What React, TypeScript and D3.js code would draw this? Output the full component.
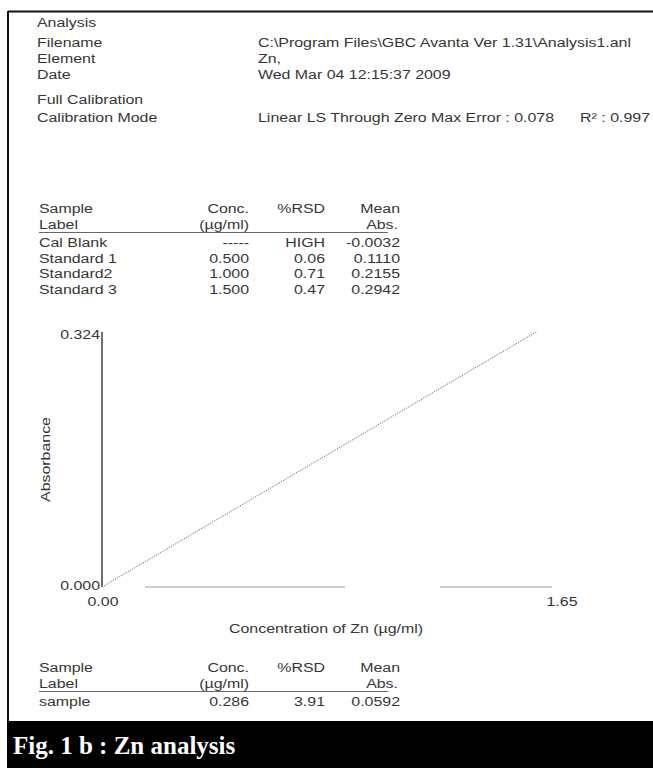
import React from "react";
import * as d3 from "d3";

const infoLabels = ["Filename", "Element", "Date"];
const infoValues = [
  "C:\\Program Files\\GBC Avanta Ver 1.31\\Analysis1.anl",
  "Zn,",
  "Wed Mar 04 12:15:37 2009",
];
const calibrationText = "Linear LS Through Zero  Max Error : 0.078";
const r2Text = "R\u00b2 : 0.997";

const stdLabels = ["Cal Blank", "Standard 1", "Standard2", "Standard 3"];
const stdConcText = ["-----", "0.500", "1.000", "1.500"];
const stdRsd = ["HIGH", "0.06", "0.71", "0.47"];
const stdMeanAbs = ["-0.0032", "0.1110", "0.2155", "0.2942"];

const stdConc = [0.5, 1.0, 1.5];
const stdAbs = [0.111, 0.2155, 0.2942];

const sampleLabels = ["sample"];
const sampleConc = ["0.286"];
const sampleRsd = ["3.91"];
const sampleMeanAbs = ["0.0592"];

const xDomain = [0, 1.65];
const yDomain = [0, 0.324];
const xTickLabels = ["0.00", "1.65"];
const yTickLabels = ["0.000", "0.324"];

const FONT = "'Liberation Sans', Arial, sans-serif";
const INK = "#363636";
const FS = 13.5;
const SX = 1.18;

function T({ x, y, anchor = "start", rotate = 0, children }: { x: number; y: number; anchor?: string; rotate?: number; children: React.ReactNode }) {
  return (
    <text transform={`translate(${x},${y}) rotate(${rotate}) scale(${SX},1)`} textAnchor={anchor as any}>
      {children}
    </text>
  );
}

function Table({ y, labels, conc, rsd, mean }: { y: number; labels: string[]; conc: string[]; rsd: string[]; mean: string[] }) {
  const colL = 39, colC = 249, colR = 325, colM = 400;
  const rowH = 15.5;
  return (
    <g fontFamily={FONT} fontSize={FS} fill={INK}>
      <T x={colL} y={y}>Sample</T>
      <T x={colL} y={y + 15.5}>Label</T>
      <T x={colC} y={y} anchor="end">Conc.</T>
      <T x={colC} y={y + 15.5} anchor="end">(µg/ml)</T>
      <T x={colR} y={y} anchor="end">%RSD</T>
      <T x={colM} y={y} anchor="end">Mean</T>
      <T x={colM - 2} y={y + 15.5} anchor="end">Abs.</T>
      <line x1={colL} x2={colM - 12} y1={y + 19.5} y2={y + 19.5} stroke="#666" strokeWidth={1} />
      {labels.map((l, i) => (
        <g key={l}>
          <T x={colL} y={y + 34 + i * rowH}>{l}</T>
          <T x={colC} y={y + 34 + i * rowH} anchor="end">{conc[i]}</T>
          <T x={colR} y={y + 34 + i * rowH} anchor="end">{rsd[i]}</T>
          <T x={colM} y={y + 34 + i * rowH} anchor="end">{mean[i]}</T>
        </g>
      ))}
    </g>
  );
}

export default function App() {
  const W = 653, H = 768;
  const x = d3.scaleLinear().domain(xDomain).range([102, 552]);
  const y = d3.scaleLinear().domain(yDomain).range([587, 332]);

  const slope = d3.sum(stdConc.map((c, i) => c * stdAbs[i])) / d3.sum(stdConc.map((c) => c * c));
  const endConc = yDomain[1] / slope;
  const fitPts: [number, number][] = [[0, 0], [endConc, slope * endConc]];
  const line = d3.line<[number, number]>().x((d) => x(d[0])).y((d) => y(d[1]));

  return (
    <svg width={W} height={H} style={{ position: "absolute", left: 0, top: 0, background: "#fff" }}>
      <rect x={0} y={0} width={W} height={H} fill="#fff" />
      {/* frame */}
      <line x1={8} x2={W} y1={11.5} y2={11.5} stroke="#111" strokeWidth={2} />
      <line x1={8} x2={8} y1={11} y2={721} stroke="#111" strokeWidth={2} />

      <g fontFamily={FONT} fontSize={FS} fill={INK}>
        <T x={37} y={27}>Analysis</T>
        {infoLabels.map((l, i) => (
          <g key={l}>
            <T x={37} y={47 + i * 16}>{l}</T>
            <T x={258} y={47 + i * 16}>{infoValues[i]}</T>
          </g>
        ))}
        <T x={37} y={104}>Full Calibration</T>
        <T x={37} y={122}>Calibration Mode</T>
        <T x={258} y={122}>{calibrationText}</T>
        <T x={650} y={122} anchor="end">{r2Text}</T>
      </g>

      <Table y={213} labels={stdLabels} conc={stdConcText} rsd={stdRsd} mean={stdMeanAbs} />

      {/* chart */}
      <line x1={x(0)} x2={x(0)} y1={y(yDomain[1])} y2={y(0)} stroke="#222" strokeWidth={1.3} />
      <line x1={x(0)} x2={x(xDomain[1])} y1={y(0)} y2={y(0)} stroke="#999" strokeWidth={1.2} strokeDasharray="0 43 200 95 112" />
      <path d={line(fitPts) || ""} fill="none" stroke="#666" strokeWidth={1} strokeDasharray="1.2 1.3" />
      <g fontFamily={FONT} fontSize={FS} fill={INK}>
        <T x={x(0) - 2} y={y(yDomain[1]) + 7} anchor="end">{yTickLabels[1]}</T>
        <T x={x(0) - 2} y={y(0) + 3} anchor="end">{yTickLabels[0]}</T>
        <T x={x(0) + 1} y={y(0) + 19} anchor="middle">{xTickLabels[0]}</T>
        <T x={x(xDomain[1]) + 10} y={y(0) + 19} anchor="middle">{xTickLabels[1]}</T>
        <T x={50} y={(y(0) + y(yDomain[1])) / 2} anchor="middle" rotate={-90}>Absorbance</T>
        <T x={326} y={633} anchor="middle">Concentration of Zn (µg/ml)</T>
      </g>

      <Table y={672} labels={sampleLabels} conc={sampleConc} rsd={sampleRsd} mean={sampleMeanAbs} />

      {/* caption bar */}
      <rect x={7} y={721} width={W - 7} height={H - 721} fill="#000" />
      <text x={13} y={754} fill="#fff" fontFamily="'Liberation Serif', 'Times New Roman', serif" fontWeight="bold" fontSize={25}>
        Fig. 1 b : Zn analysis
      </text>
    </svg>
  );
}
